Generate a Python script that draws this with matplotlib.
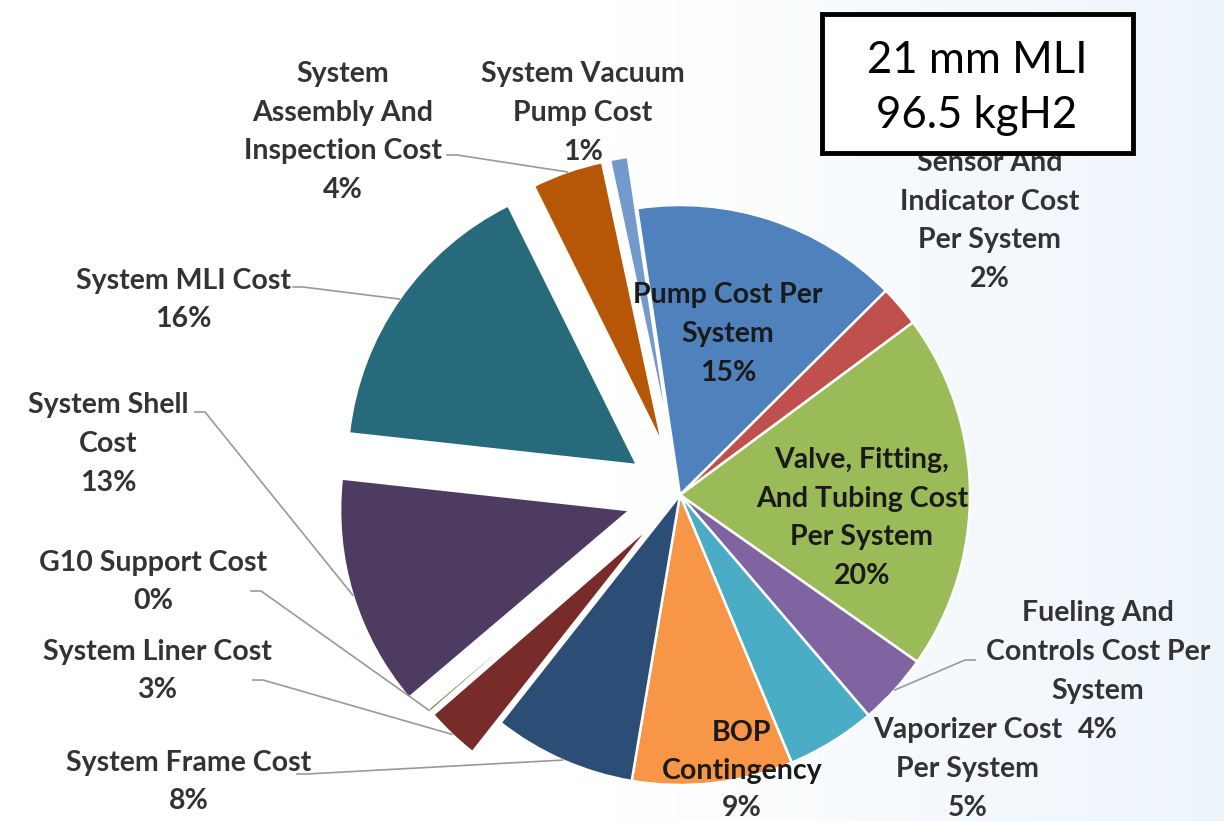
import matplotlib
matplotlib.use("Agg")
import matplotlib.pyplot as plt
from matplotlib.patches import Rectangle
import numpy as np

# slice data (clockwise from the top)
categories = ["Pump Cost Per System", "Sensor And Indicator Cost Per System",
              "Valve, Fitting, And Tubing Cost Per System",
              "Fueling And Controls Cost Per System", "Vaporizer Cost Per System",
              "BOP Contingency", "System Frame Cost", "System Liner Cost",
              "G10 Support Cost", "System Shell Cost", "System MLI Cost",
              "System Assembly And Inspection Cost", "System Vacuum Pump Cost"]
shares = [15.0, 2.3, 20.0, 4.0, 5.0, 9.0, 8.0, 3.0, 0.2, 13.0, 16.0, 4.0, 1.0]
pct_labels = ["15%", "2%", "20%", "4%", "5%", "9%", "8%", "3%", "0%", "13%", "16%", "4%", "1%"]
label_text = ["Pump Cost Per\nSystem", "Sensor And\nIndicator Cost\nPer System",
              "Valve, Fitting,\nAnd Tubing Cost\nPer System",
              "Fueling And\nControls Cost Per\nSystem", "Vaporizer Cost\nPer System",
              "BOP\nContingency", "System Frame Cost", "System Liner Cost",
              "G10 Support Cost", "System Shell\nCost", "System MLI Cost",
              "System\nAssembly And\nInspection Cost", "System Vacuum\nPump Cost"]
colors = ["#4F81BD", "#C0504D", "#9BBB59", "#8064A2", "#4BACC6", "#F79646",
          "#2C4D75", "#772C2A", "#5F7530", "#4D3B62", "#276A7C", "#B65708", "#729ACA"]
explode_frac = [0, 0, 0, 0, 0, 0, 0, 0.14, 0.14, 0.18, 0.18, 0.18, 0.18]

box_lines = "21 mm MLI\n96.5 kgH2"

# layout in image pixels (x, y from top)
W, H = 1224, 821
center = (680, H - 495)
radius = 290
label_pos = [(728, 334), (990, 221), (862, 518), (1098, 672), (968, 769),
             (742, 770), (189, 782), (157, 671), (153, 582), (108, 444),
             (183, 300), (343, 132), (583, 113)]
# labels whose percentage is drawn as a separate text: name centre y, pct centre y
split_y = {3: (652, 730), 5: (752, 808)}
# label side end of leader line (None = no line)
leader_from = [None, None, None, (975, 660), None, None, (297, 774),
               (253, 680), (251, 591), (195, 412), (293, 287), (447, 155), None]
inside = [True, False, True, False, False, True, False, False, False,
          False, False, False, False]

fig = plt.figure(figsize=(12.24, 8.21), dpi=100)
ax = fig.add_axes([0, 0, 1, 1])

# faint bluish background on the right
grad = np.linspace(0, 1, 256)
grad = np.clip((grad - 0.5) / 0.5, 0, 1)[None, :]
bg = np.ones((1, 256, 3))
tint = np.array([0.93, 0.96, 0.985])
bg = bg * (1 - grad[..., None]) + tint * grad[..., None]
ax.imshow(bg, extent=(0, W, 0, H), aspect="auto", zorder=0)

# pie explode is in data units, so scale by the radius
wedges, _ = ax.pie(shares, colors=colors,
                   explode=[e * radius for e in explode_frac], startangle=98.5,
                   counterclock=False, center=center, radius=radius,
                   wedgeprops=dict(edgecolor="white", linewidth=1.8))
for w in wedges:
    w.set_zorder(2)

ax.set_xlim(0, W)
ax.set_ylim(0, H)
ax.set_aspect("equal")
ax.axis("off")

font = "Lato"
fs = 20.5
ls = 1.6
for i, w in enumerate(wedges):
    x, y = label_pos[i]
    col = "#1a1a1a" if inside[i] else "#333333"
    if i in split_y:
        ny, py = split_y[i]
        ax.text(x, H - ny, label_text[i], ha="center", va="center",
                multialignment="center", family=font, fontweight="bold",
                fontsize=fs, color=col, linespacing=ls, zorder=5)
        ax.text(x, H - py, pct_labels[i], ha="center", va="center", family=font,
                fontweight="bold", fontsize=fs, color="#333333", zorder=5)
    else:
        txt = label_text[i] + "\n" + pct_labels[i]
        ax.text(x, H - y, txt, ha="center", va="center", multialignment="center",
                family=font, fontweight="bold", fontsize=fs, color=col,
                linespacing=ls, zorder=5)
    if leader_from[i] is not None:
        mid = np.deg2rad((w.theta1 + w.theta2) / 2)
        cx, cy = w.center
        ex, ey = cx + w.r * np.cos(mid), cy + w.r * np.sin(mid)
        lx, ly = leader_from[i]
        step = 10 if lx < ex else -10
        ax.plot([lx, lx + step, ex], [H - ly, H - ly, ey], color="#999999",
                lw=1.2, zorder=3)

# title box
ax.add_patch(Rectangle((822, H - 153), 311, 139, facecolor="white",
                       edgecolor="black", lw=3.5, zorder=6))
ax.text(977, H - 88, box_lines, ha="center", va="center", family=font,
        fontsize=31.5, color="black", linespacing=1.45, zorder=7)

fig.savefig("out.png", dpi=100)
